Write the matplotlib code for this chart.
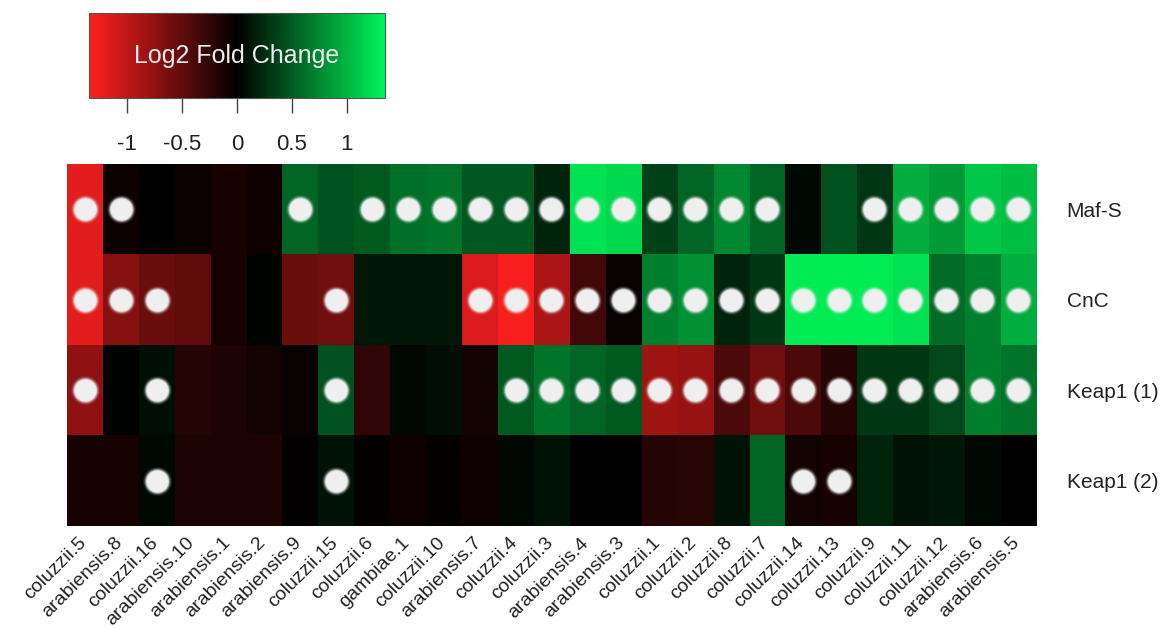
import numpy as np
import matplotlib.pyplot as plt
from matplotlib.colors import LinearSegmentedColormap, Normalize
from matplotlib.cm import ScalarMappable
from matplotlib.transforms import ScaledTranslation

plt.rcParams['font.family'] = ['Liberation Sans', 'DejaVu Sans']

samples = ['coluzzii.5', 'arabiensis.8', 'coluzzii.16', 'arabiensis.10', 'arabiensis.1',
           'arabiensis.2', 'arabiensis.9', 'coluzzii.15', 'coluzzii.6', 'gambiae.1',
           'coluzzii.10', 'arabiensis.7', 'coluzzii.4', 'coluzzii.3', 'arabiensis.4',
           'arabiensis.3', 'coluzzii.1', 'coluzzii.2', 'coluzzii.8', 'coluzzii.7',
           'coluzzii.14', 'coluzzii.13', 'coluzzii.9', 'coluzzii.11', 'coluzzii.12',
           'arabiensis.6', 'arabiensis.5']
genes = ['Maf-S', 'CnC', 'Keap1 (1)', 'Keap1 (2)']

# log2 fold change per gene
maf_s = [-1.2, -0.06, 0.0, -0.06, -0.12, -0.08, 0.55, 0.45, 0.5, 0.62, 0.65, 0.48, 0.48, 0.2,
         1.25, 1.2, 0.35, 0.55, 0.75, 0.55, 0.05, 0.45, 0.3, 0.95, 0.85, 1.1, 1.05]
cnc = [-1.2, -0.7, -0.55, -0.5, -0.12, 0.03, -0.55, -0.6, 0.12, 0.12, 0.12, -1.15, -1.3, -0.9,
       -0.35, -0.05, 0.7, 0.8, 0.2, 0.3, 1.3, 1.3, 1.3, 1.25, 0.6, 0.7, 0.95]
keap1_1 = [-0.75, 0.02, 0.08, -0.2, -0.15, -0.1, -0.05, 0.45, -0.25, 0.05, 0.08, -0.1, 0.5, 0.65,
           0.55, 0.5, -0.85, -0.8, -0.4, -0.6, -0.4, -0.2, 0.3, 0.3, 0.4, 0.7, 0.65]
keap1_2 = [-0.12, -0.12, 0.05, -0.15, -0.15, -0.15, -0.02, 0.1, -0.03, -0.08, -0.03, -0.08, 0.05, 0.1,
           0.0, 0.0, -0.2, -0.22, 0.1, 0.55, -0.1, -0.12, 0.2, 0.1, 0.12, 0.05, 0.0]

# significant samples (1 = dot)
sig_maf_s = [1, 1, 0, 0, 0, 0, 1, 0, 1, 1, 1, 1, 1, 1, 1, 1, 1, 1, 1, 1, 0, 0, 1, 1, 1, 1, 1]
sig_cnc = [1, 1, 1, 0, 0, 0, 0, 1, 0, 0, 0, 1, 1, 1, 1, 1, 1, 1, 1, 1, 1, 1, 1, 1, 1, 1, 1]
sig_keap1_1 = [1, 0, 1, 0, 0, 0, 0, 1, 0, 0, 0, 0, 1, 1, 1, 1, 1, 1, 1, 1, 1, 1, 1, 1, 1, 1, 1]
sig_keap1_2 = [0, 0, 1, 0, 0, 0, 0, 1, 0, 0, 0, 0, 0, 0, 0, 0, 0, 0, 0, 0, 1, 1, 0, 0, 0, 0, 0]

vals = np.array([maf_s, cnc, keap1_1, keap1_2])
sig = np.array([sig_maf_s, sig_cnc, sig_keap1_1, sig_keap1_2])

cmap = LinearSegmentedColormap.from_list('rbg', ['#ff2020', '#000000', '#00f458'])
norm = Normalize(vmin=-1.35, vmax=1.35)

fig = plt.figure(figsize=(11.71, 6.29), dpi=100)

ax = fig.add_axes([0.0572, 0.1638, 0.8275, 0.5755])
ax.imshow(vals, cmap=cmap, norm=norm, aspect='auto', interpolation='nearest')

yy, xx = np.nonzero(sig)
# soft-edged white dots
for s, a in [(440, 0.08), (380, 0.2), (320, 0.45), (270, 0.8), (230, 1.0)]:
    ax.scatter(xx, yy, s=s, color='#efefef', alpha=a, linewidths=0, zorder=3)

ax.set_xlim(-0.5, len(samples) - 0.5)
ax.set_ylim(len(genes) - 0.5, -0.5)
ax.set_xticks(range(len(samples)))
ax.set_xticklabels(samples, rotation=45, ha='right', va='top', rotation_mode='anchor',
                   fontsize=14, color='#222222')
ax.tick_params(axis='x', length=0, pad=6)
shift = ScaledTranslation(-7 / 100, 0, fig.dpi_scale_trans)
for lab in ax.get_xticklabels():
    lab.set_transform(lab.get_transform() + shift)
ax.set_yticks(range(len(genes)))
ax.set_yticklabels(genes, fontsize=15, color='#222222')
ax.yaxis.tick_right()
ax.tick_params(axis='y', length=0, pad=22)
for sp in ax.spines.values():
    sp.set_visible(False)

# colour key
cax = fig.add_axes([0.076, 0.8442, 0.2528, 0.1351])
cb = fig.colorbar(ScalarMappable(norm=norm, cmap=cmap), cax=cax, orientation='horizontal')
cb.set_ticks([-1, -0.5, 0, 0.5, 1])
cb.set_ticklabels(['-1', '-0.5', '0', '0.5', '1'])
cax.tick_params(axis='x', length=11, width=1, color='#444444', labelsize=16,
                labelcolor='#222222', pad=15)
cb.outline.set_edgecolor('#555555')
cb.outline.set_linewidth(0.8)
cax.text(0.5, 0.5, 'Log2 Fold Change', transform=cax.transAxes, ha='center', va='center',
         fontsize=18, color='#eeeeee')

fig.savefig('out.png', dpi=100)
